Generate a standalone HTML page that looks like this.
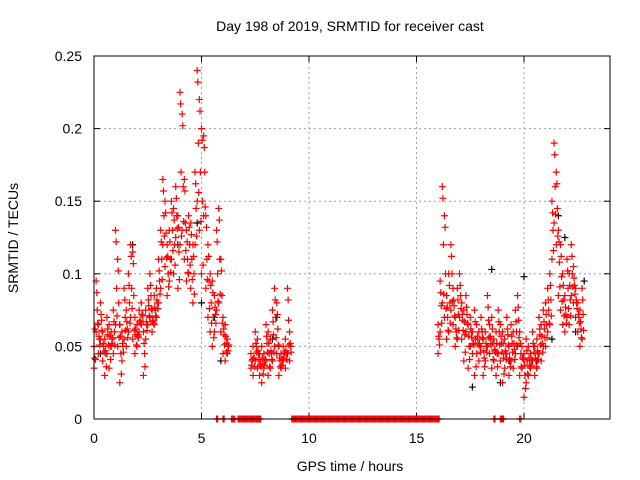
<!DOCTYPE html>
<html><head><meta charset="utf-8"><style>
body{margin:0;background:#fff}
svg{display:block;font-family:"Liberation Sans",sans-serif}
</style></head><body>
<svg id="chart" width="640" height="480">
<text x="350" y="31" font-size="14" text-anchor="middle">Day 198 of 2019, SRMTID for receiver cast</text>
<text x="350" y="471" font-size="14" text-anchor="middle">GPS time / hours</text>
<text transform="translate(18,238) rotate(-90)" font-size="14" text-anchor="middle">SRMTID / TECUs</text>
<g id="grid"></g><g id="ticks"></g><g id="marks"></g>
<rect x="94" y="56" width="516" height="363" fill="none" stroke="#000" stroke-width="1"/>
</svg>
<script>
const xTicks=[0,5,10,15,20];
const yTicks=[0,0.05,0.1,0.15,0.2,0.25];
const yTickLabels=["0","0.05","0.1","0.15","0.2","0.25"];
const hours=[0.0,0.1,0.2,0.3,0.4,0.5,0.6,0.7,0.8,0.9,1.0,1.1,1.2,1.3,1.4,1.5,1.6,1.7,1.8,1.9,2.0,2.1,2.2,2.3,2.4,2.5,2.6,2.7,2.8,2.9,3.0,3.1,3.2,3.3,3.4,3.5,3.6,3.7,3.8,3.9,4.0,4.1,4.2,4.3,4.4,4.5,4.6,4.7,4.8,4.9,5.0,5.1,5.2,5.3,5.4,5.5,5.6,5.7,5.8,5.9,6.0,6.1,6.2,
7.3,7.4,7.5,7.6,7.7,7.8,7.9,8.0,8.1,8.2,8.3,8.4,8.5,8.6,8.7,8.8,8.9,9.0,9.1,
16.0,16.1,16.2,16.3,16.4,16.5,16.6,16.7,16.8,16.9,17.0,17.1,17.2,17.3,17.4,17.5,17.6,17.7,17.8,17.9,18.0,18.1,18.2,18.3,18.4,18.5,18.6,18.7,18.8,18.9,19.0,19.1,19.2,19.3,19.4,19.5,19.6,19.7,19.8,19.9,20.0,20.1,20.2,20.3,20.4,20.5,20.6,20.7,20.8,20.9,21.0,21.1,21.2,21.3,21.4,21.5,21.6,21.7,21.8,21.9,22.0,22.1,22.2,22.3,22.4,22.5,22.6,22.7];
const tecHigh=[.05,.095,.065,.08,.06,.055,.07,.065,.06,.075,.13,.11,.065,.06,.09,.075,.1,.12,.115,.07,.065,.075,.08,.06,.075,.09,.1,.075,.085,.09,.11,.13,.165,.15,.12,.13,.15,.145,.16,.14,.225,.21,.165,.13,.14,.135,.12,.17,.24,.22,.2,.195,.14,.12,.1,.095,.085,.13,.145,.11,.07,.065,.055,
.045,.05,.06,.055,.045,.05,.045,.065,.06,.055,.075,.09,.08,.05,.045,.05,.055,.09,.06,
.065,.095,.16,.14,.085,.1,.12,.09,.07,.09,.1,.08,.075,.085,.065,.07,.06,.075,.065,.06,.07,.055,.06,.085,.065,.07,.055,.06,.075,.065,.06,.055,.07,.05,.065,.06,.075,.085,.06,.05,.045,.055,.05,.045,.06,.05,.055,.07,.065,.075,.08,.09,.1,.15,.19,.17,.13,.12,.1,.085,.11,.1,.12,.105,.09,.08,.075,.09];
const tecMid=[.062,.075,.055,.068,.05,.045,.058,.05,.055,.06,.09,.08,.045,.05,.07,.062,.08,.09,.085,.058,.058,.068,.072,.045,.065,.078,.085,.068,.075,.08,.095,.11,.14,.128,.1,.11,.13,.12,.14,.115,.17,.16,.135,.11,.12,.11,.1,.145,.19,.17,.15,.17,.11,.095,.08,.07,.072,.1,.11,.085,.058,.052,.05,
.04,.042,.05,.045,.038,.04,.04,.052,.045,.045,.058,.07,.062,.04,.04,.045,.045,.068,.05,
.055,.078,.12,.1,.07,.08,.1,.078,.06,.072,.085,.068,.058,.072,.05,.06,.052,.055,.055,.05,.06,.042,.05,.068,.055,.052,.048,.045,.06,.052,.042,.045,.058,.04,.052,.048,.06,.068,.045,.042,.03,.04,.04,.04,.05,.04,.045,.058,.052,.062,.065,.075,.082,.13,.16,.145,.108,.098,.082,.072,.09,.082,.1,.092,.08,.07,.062,.072];
const tecLow=[.035,.06,.045,.055,.04,.03,.045,.035,.05,.045,.065,.05,.025,.04,.055,.05,.06,.07,.055,.045,.05,.06,.065,.03,.055,.065,.07,.06,.065,.07,.08,.09,.12,.105,.085,.095,.11,.1,.125,.09,.12,.13,.11,.095,.1,.09,.08,.12,.15,.13,.1,.14,.09,.07,.06,.05,.06,.075,.08,.06,.045,.04,.045,
.035,.03,.04,.035,.03,.025,.035,.04,.03,.035,.04,.05,.045,.03,.035,.04,.035,.045,.04,
.045,.06,.08,.07,.055,.06,.075,.065,.05,.055,.07,.055,.04,.06,.035,.05,.045,.03,.045,.04,.05,.03,.04,.05,.045,.035,.04,.03,.045,.04,.025,.035,.045,.03,.04,.035,.045,.05,.03,.035,.015,.025,.03,.035,.04,.03,.035,.045,.04,.05,.05,.06,.065,.11,.135,.12,.085,.075,.065,.06,.07,.065,.085,.08,.07,.06,.05,.055];
const blackHours=[0.3,1.2,1.8,2.6,3.9,4.8,5.0,5.6,5.9,8.3,8.5,17.3,17.6,18.5,18.9,19.3,20.0,20.6,21.3,21.6,21.9,22.4,22.8];
const blackTec=[.045,.065,.12,.07,.12,.135,.08,.07,.04,.055,.07,.06,.022,.103,.025,.04,.098,.04,.055,.14,.125,.06,.095];
const zeroHours=[5.7,6.0,6.4,6.5,6.7,6.8,6.9,7.0,7.05,7.15,7.25,7.35,7.45,7.55,7.6,7.7,
9.2,9.3,9.4,9.5,9.6,9.7,9.8,9.9,10.0,10.1,10.2,10.3,10.4,10.5,10.6,10.7,10.8,10.9,11.0,11.1,11.2,11.3,11.4,11.5,11.6,11.7,11.8,11.9,12.0,12.1,12.2,12.3,12.4,12.5,12.6,12.7,12.8,12.9,13.0,13.1,13.2,13.3,13.4,13.5,13.6,13.7,13.8,13.9,14.0,14.1,14.2,14.3,14.4,14.5,14.6,14.7,14.8,14.9,15.0,15.1,15.2,15.3,15.4,15.5,15.6,15.7,15.8,15.9,16.0,18.6,18.9,19.0,19.8];

const X0=94,X1=610,Y0=419,Y1=56;
function xs(h){return X0+(h/24)*(X1-X0);}
function ys(v){return Y0-(v/0.25)*(Y0-Y1);}
const NS="http://www.w3.org/2000/svg";
const grid=document.getElementById('grid'),ticks=document.getElementById('ticks'),marks=document.getElementById('marks');
function mk(tag,attrs,parent){const e=document.createElementNS(NS,tag);for(const k in attrs)e.setAttribute(k,attrs[k]);parent.appendChild(e);return e;}
xTicks.forEach(t=>{
  const x=xs(t);
  if(t>0){const g=mk('line',{x1:x,x2:x,y1:Y0,y2:Y1,stroke:'#a0a0a0','stroke-dasharray':'2,3'},grid);
  
  }
  mk('line',{x1:x,x2:x,y1:Y0,y2:Y0-6,stroke:'#000'},ticks);
  mk('line',{x1:x,x2:x,y1:Y1,y2:Y1+6,stroke:'#000'},ticks);
  const l=mk('text',{x:x,y:443,'font-size':14,'text-anchor':'middle'},ticks);l.textContent=t;
  
  
});
yTicks.forEach((t,i)=>{
  const y=ys(t);
  if(t>0&&t<0.25){const g=mk('line',{x1:X0,x2:X1,y1:y,y2:y,stroke:'#a0a0a0','stroke-dasharray':'2,3'},grid);
  
  }
  mk('line',{x1:X0,x2:X0+6,y1:y,y2:y,stroke:'#000'},ticks);
  mk('line',{x1:X1,x2:X1-6,y1:y,y2:y,stroke:'#000'},ticks);
  const l=mk('text',{x:82,y:y+5,'font-size':14,'text-anchor':'end'},ticks);l.textContent=yTickLabels[i];
  
  
});
function plus(h,v,color){
  const x=xs(h),y=ys(v);
  const p=mk('path',{d:`M${x-3.5},${y}H${x+3.5}M${x},${y-3.5}V${y+3.5}`,stroke:color,'stroke-width':1.2,fill:'none'},marks);
  
  
}
blackHours.forEach((h,i)=>plus(h,blackTec[i],'#000'));
hours.forEach((h,i)=>{
  plus(h,tecHigh[i],'#f00');plus(h+0.05,tecMid[i],'#f00');plus(h,tecLow[i],'#f00');
  plus(h+0.03,tecHigh[i]-0.008,'#f00');plus(h+0.07,tecLow[i]+0.006,'#f00');
});
zeroHours.forEach(h=>{plus(h,0,'#f00');plus(h+0.05,0,'#f00');});
</script>
</body></html>
